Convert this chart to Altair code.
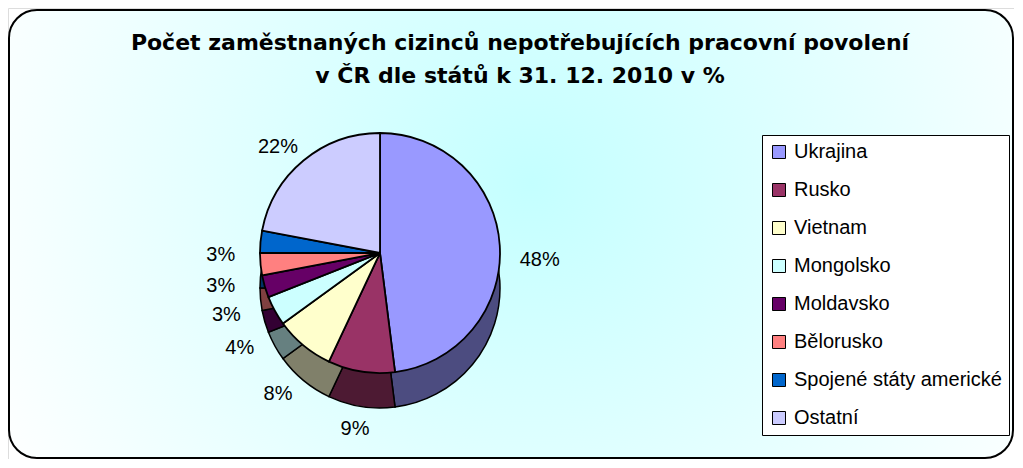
import altair as alt
import pandas as pd

countries = ["Ukrajina", "Rusko", "Vietnam", "Mongolsko", "Moldavsko",
             "Bělorusko", "Spojené státy americké", "Ostatní"]
shares = [48, 9, 8, 4, 3, 3, 3, 22]
labels = ["48%", "9%", "8%", "4%", "3%", "3%", "3%", "22%"]
top_colors = ["#9999FF", "#993366", "#FFFFCC", "#CCFFFF", "#660066",
              "#FF8080", "#0066CC", "#CCCCFF"]
side_colors = ["#4C4C80", "#4D1A33", "#80806A", "#668080", "#330033",
               "#804040", "#003366", "#66667F"]
title_lines = ["Počet zaměstnaných cizinců nepotřebujících pracovní povolení",
               "v ČR dle států k 31. 12. 2010 v %"]

df = pd.DataFrame({"country": countries, "share": shares, "label": labels,
                   "order": list(range(len(countries)))})
one = pd.DataFrame({"k": [0]})

W, H = 1006, 451
CX, CY = 372, 245
R = 120
DEPTH = 35
FONT = "Liberation Sans"

bg = alt.Chart(one).mark_rect(
    fill={"gradient": "radial",
          "stops": [{"offset": 0, "color": "#c4ffff"},
                    {"offset": 1, "color": "#ffffff"}],
          "x1": 0.52, "y1": 0.45, "r1": 0, "x2": 0.52, "y2": 0.45, "r2": 0.6},
    stroke="black", strokeWidth=2, cornerRadius=28,
).encode(x=alt.value(1), x2=alt.value(W - 1), y=alt.value(2), y2=alt.value(H - 1))

title = alt.Chart(one).mark_text(
    text=title_lines, font="DejaVu Sans", fontSize=22, fontWeight="bold",
    lineHeight=33, align="center", baseline="middle", color="black",
).encode(x=alt.value(512), y=alt.value(35))

base = alt.Chart(df).encode(
    theta=alt.Theta("share:Q", stack=True),
    order=alt.Order("order:Q"),
)

side = base.mark_arc(outerRadius=R, stroke="black", strokeWidth=1.5).encode(
    color=alt.Color("country:N", sort=countries,
                    scale=alt.Scale(domain=countries, range=side_colors),
                    legend=None),
    x=alt.value(CX), y=alt.value(CY + DEPTH),
)

top = base.mark_arc(outerRadius=R, stroke="black", strokeWidth=1.8).encode(
    color=alt.Color("country:N", sort=countries,
                    scale=alt.Scale(domain=countries, range=top_colors),
                    legend=alt.Legend(
                        title=None, orient="none", legendX=754, legendY=127,
                        symbolType="square", symbolSize=169,
                        symbolStrokeColor="black", symbolStrokeWidth=1,
                        labelFont=FONT, labelFontSize=20, labelColor="black",
                        labelLimit=400, labelOffset=5, rowPadding=18,
                        padding=7, fillColor="white", strokeColor="black",
                    )),
    x=alt.value(CX), y=alt.value(CY),
)

text = base.mark_text(radius=R + 40, font=FONT, fontSize=20, color="black").encode(
    text="label:N", x=alt.value(CX), y=alt.value(CY + DEPTH / 2),
)

pie = alt.layer(side, top, text).resolve_scale(color="independent")

chart = alt.layer(bg, title, pie).properties(
    width=W, height=H, padding=0, autosize=alt.AutoSizeParams(type="none"),
).configure_view(stroke=None).configure(background="white")

chart.save("out.html", embed_options={"renderer": "svg", "actions": False})
